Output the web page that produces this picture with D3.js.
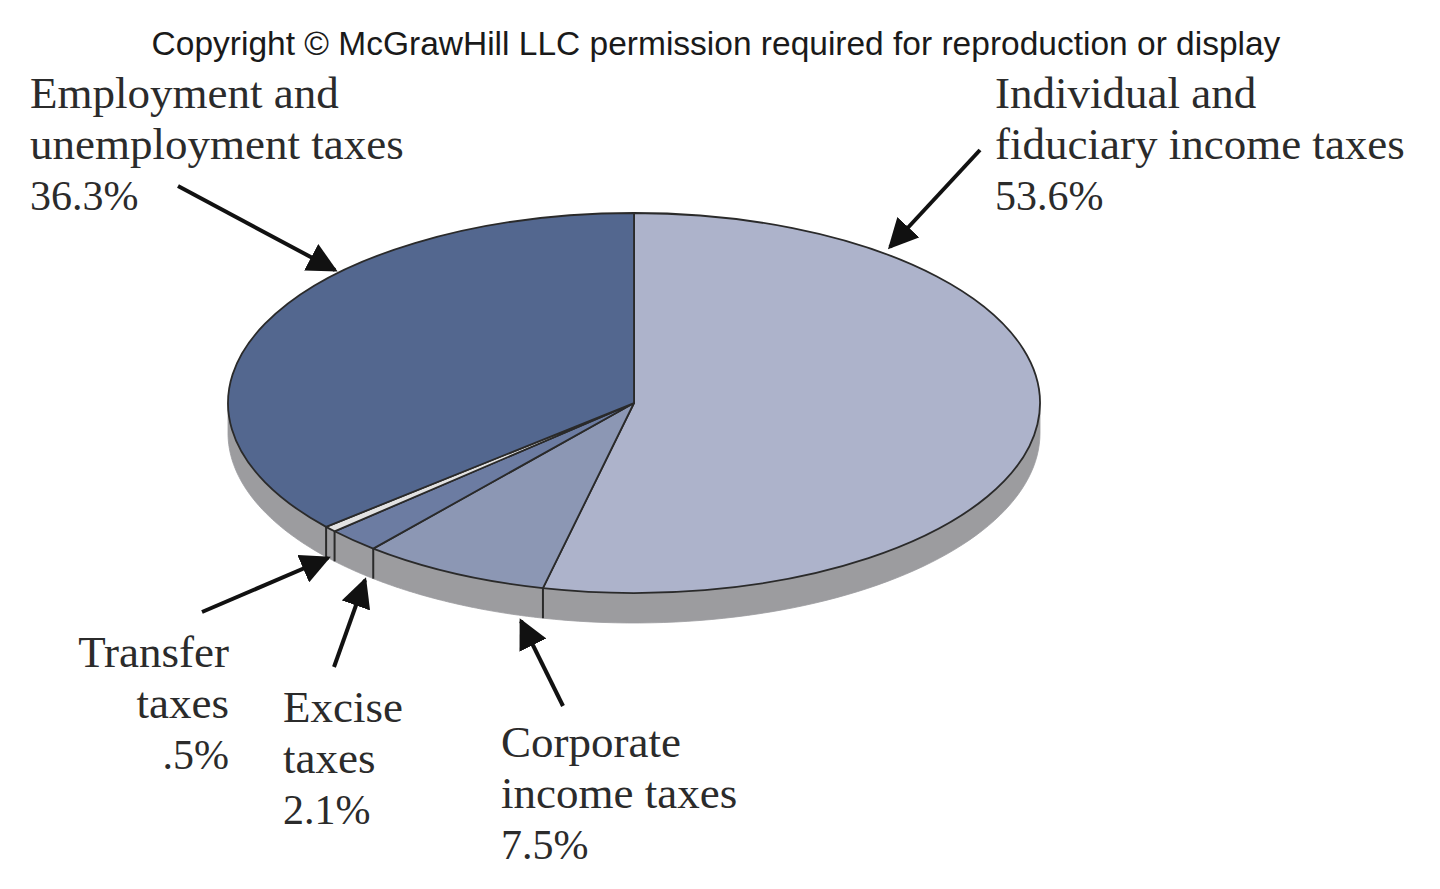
<!DOCTYPE html>
<html>
<head>
<meta charset="utf-8">
<script src="https://cdn.jsdelivr.net/npm/d3@7"></script>
<style>
  body { margin: 0; background: #fff; }
  svg { display: block; }
</style>
</head>
<body>
<svg width="1440" height="889"></svg>
<script>
// slices, clockwise from 12 o'clock
var categories = ['Individual and fiduciary income taxes', 'Corporate income taxes', 'Excise taxes', 'Transfer taxes', 'Employment and unemployment taxes'];
var shares = [53.6, 7.5, 2.1, 0.5, 36.3];
var shareLabels = ['53.6%', '7.5%', '2.1%', '.5%', '36.3%'];
var colors = ['#adb3cb', '#8c97b4', '#6c7ca2', '#e2e2e2', '#53678f'];

// label text lines (last line is the share)
var labelLines = [
  ['Individual and', 'fiduciary income taxes'],
  ['Corporate', 'income taxes'],
  ['Excise', 'taxes'],
  ['Transfer', 'taxes'],
  ['Employment and', 'unemployment taxes']
];

var svg = d3.select('svg');

var cx = 634, cy = 403, rx = 406, ry = 190, depth = 30;
var wallColor = '#9c9c9f';

// copyright line
svg.append('text')
  .attr('x', 716)
  .attr('y', 55)
  .attr('text-anchor', 'middle')
  .style('font-family', 'Liberation Sans, Arial, sans-serif')
  .style('font-size', '33.5px')
  .attr('fill', '#1a1a1a')
  .text('Copyright \u00a9 McGrawHill LLC permission required for reproduction or display');

var pie = d3.pie().sort(null).value(function(d) { return d; });
var arcs = pie(shares);

var ex = function(a) { return cx + rx * Math.sin(a); };
var ey = function(a) { return cy - ry * Math.cos(a); };

// side wall: only the front half (angles between PI/2 and 3PI/2) shows
var line = d3.line();
var wall = svg.append('g');
arcs.forEach(function(d) {
  var a0 = Math.max(d.startAngle, Math.PI / 2);
  var a1 = Math.min(d.endAngle, 3 * Math.PI / 2);
  if (a1 <= a0) return;
  var pts = [];
  var n = 60;
  for (var i = 0; i <= n; i++) {
    var a = a0 + (a1 - a0) * i / n;
    pts.push([ex(a), ey(a)]);
  }
  for (var j = n; j >= 0; j--) {
    var b = a0 + (a1 - a0) * j / n;
    pts.push([ex(b), ey(b) + depth]);
  }
  wall.append('path')
    .attr('d', line(pts) + 'Z')
    .attr('fill', wallColor)
    .attr('stroke', wallColor)
    .attr('stroke-width', 0.8);
});

// boundary lines on the wall
arcs.forEach(function(d) {
  var a = d.startAngle;
  if (a > Math.PI / 2 && a < 3 * Math.PI / 2) {
    wall.append('line')
      .attr('x1', ex(a)).attr('y1', ey(a))
      .attr('x2', ex(a)).attr('y2', ey(a) + depth)
      .attr('stroke', '#2a2a2a')
      .attr('stroke-width', 2);
  }
});

// top face: circle arcs squashed into an ellipse
var arc = d3.arc().innerRadius(0).outerRadius(rx);
svg.append('g')
  .attr('transform', 'translate(' + cx + ',' + cy + ') scale(1,' + (ry / rx) + ')')
  .selectAll('path')
  .data(arcs)
  .enter()
  .append('path')
  .attr('d', arc)
  .attr('fill', function(d, i) { return colors[i]; })
  .attr('stroke', '#2a2a2a')
  .attr('stroke-width', 1.8)
  .attr('vector-effect', 'non-scaling-stroke')
  .attr('stroke-linejoin', 'round');

// arrows
var defs = svg.append('defs');
defs.append('marker')
  .attr('id', 'head')
  .attr('viewBox', '0 0 10 10')
  .attr('refX', 9).attr('refY', 5)
  .attr('markerWidth', 7.5).attr('markerHeight', 7.5)
  .attr('markerUnits', 'strokeWidth')
  .attr('orient', 'auto')
  .append('path')
  .attr('d', 'M0,0 L10,5 L0,10 Z')
  .attr('fill', '#111');

var arrows = [
  [980, 150, 890, 247],
  [563, 706, 521, 621],
  [334, 667, 365, 580],
  [202, 612, 328, 558],
  [178, 186, 335, 270]
];
svg.append('g').selectAll('line')
  .data(arrows)
  .enter()
  .append('line')
  .attr('x1', function(d) { return d[0]; })
  .attr('y1', function(d) { return d[1]; })
  .attr('x2', function(d) { return d[2]; })
  .attr('y2', function(d) { return d[3]; })
  .attr('stroke', '#111')
  .attr('stroke-width', 4)
  .attr('marker-end', 'url(#head)');

// labels
var labelPos = [
  { x: 995, y: 108, anchor: 'start' },
  { x: 501, y: 757, anchor: 'start' },
  { x: 283, y: 722, anchor: 'start' },
  { x: 229, y: 667, anchor: 'end' },
  { x: 30, y: 108, anchor: 'start' }
];
var lineGap = 51;

var labels = svg.append('g')
  .style('font-family', 'Liberation Serif, Times New Roman, serif')
  .attr('fill', '#2b2b2b');

labelLines.forEach(function(lines, i) {
  var p = labelPos[i];
  var t = labels.append('text')
    .attr('text-anchor', p.anchor);
  lines.forEach(function(s, k) {
    t.append('tspan')
      .attr('x', p.x)
      .attr('y', p.y + k * lineGap)
      .style('font-size', '45px')
      .text(s);
  });
  t.append('tspan')
    .attr('x', p.x)
    .attr('y', p.y + lines.length * lineGap)
    .style('font-size', '42px')
    .text(shareLabels[i]);
});
</script>
</body>
</html>
